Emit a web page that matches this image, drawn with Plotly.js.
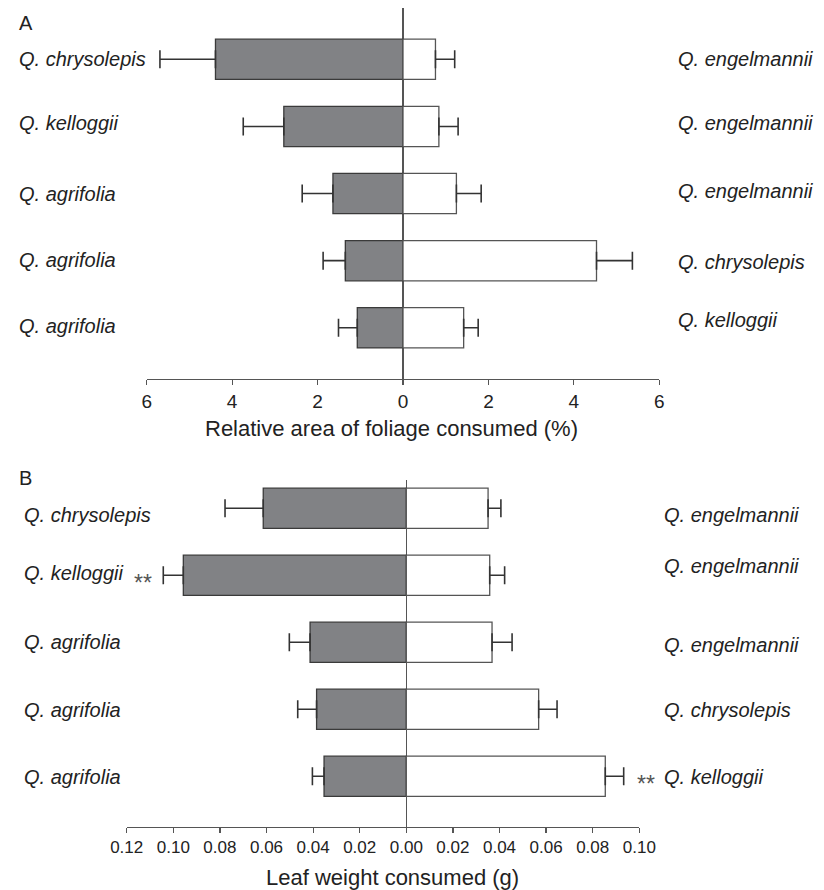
<!DOCTYPE html>
<html>
<head>
<meta charset="utf-8">
<script src="https://cdn.plot.ly/plotly-3.0.1.min.js"></script>
<style>html,body{margin:0;padding:0;background:#fff;}#chart{width:824px;height:890px;}</style>
</head>
<body>
<div id="chart"></div>
<script>
// ---- Data ----
const speciesLeft  = ['Q. chrysolepis', 'Q. kelloggii', 'Q. agrifolia', 'Q. agrifolia', 'Q. agrifolia'];
const speciesRight = ['Q. engelmannii', 'Q. engelmannii', 'Q. engelmannii', 'Q. chrysolepis', 'Q. kelloggii'];

// Panel A: relative area of foliage consumed (%)
const areaLeft      = [4.39, 2.79, 1.64, 1.35, 1.07];
const areaLeftErr   = [1.30, 0.95, 0.72, 0.52, 0.44];
const areaRight     = [0.76, 0.84, 1.25, 4.53, 1.42];
const areaRightErr  = [0.45, 0.45, 0.58, 0.84, 0.34];

// Panel B: leaf weight consumed (g)
const weightLeft     = [0.0614, 0.0957, 0.0413, 0.0385, 0.0353];
const weightLeftErr  = [0.0164, 0.0086, 0.0089, 0.0081, 0.0050];
const weightRight    = [0.0351, 0.0358, 0.0368, 0.0568, 0.0854];
const weightRightErr = [0.0055, 0.0064, 0.0086, 0.0079, 0.0079];
const sigLeftB  = ['', '**', '', '', ''];
const sigRightB = ['', '', '', '', '**'];

// Tick labels
const tickValsA = [-6, -4, -2, 0, 2, 4, 6];
const tickTextA = ['6', '4', '2', '0', '2', '4', '6'];
const tickValsB = [-0.12, -0.10, -0.08, -0.06, -0.04, -0.02, 0, 0.02, 0.04, 0.06, 0.08, 0.10];
const tickTextB = ['0.12', '0.10', '0.08', '0.06', '0.04', '0.02', '0.00', '0.02', '0.04', '0.06', '0.08', '0.10'];

const titleA = 'Relative area of foliage consumed (%)';
const titleB = 'Leaf weight consumed (g)';
const panelA = 'A', panelB = 'B';

// ---- Styling / layout helpers ----
const W = 824, H = 890;
const px = v => v / W;
const py = v => 1 - v / H;
const FONT = 'Liberation Sans, Arial, Helvetica, sans-serif';
const TXT = '#222';
const GRAY = '#818285';
const rows = speciesLeft.map((_, i) => i);
const zeros = rows.map(() => 0);

function barTrace(vals, errs, side, xa, ya) {
  const neg = side === 'left';
  return {
    type: 'bar', orientation: 'h',
    x: vals.map(v => neg ? -v : v), y: rows,
    xaxis: xa, yaxis: ya, width: 0.6,
    marker: { color: neg ? GRAY : '#ffffff', line: { color: neg ? '#3a3a3a' : '#555', width: 1.3 } },
    error_x: {
      type: 'data', symmetric: false,
      array: neg ? zeros : errs, arrayminus: neg ? errs : zeros,
      color: '#333', thickness: 1.6, width: 9
    },
    hoverinfo: 'skip'
  };
}

const data = [
  barTrace(areaLeft, areaLeftErr, 'left', 'x', 'y'),
  barTrace(areaRight, areaRightErr, 'right', 'x', 'y'),
  barTrace(weightLeft, weightLeftErr, 'left', 'x2', 'y2'),
  barTrace(weightRight, weightRightErr, 'right', 'x2', 'y2')
];

// small vertical nudges for the species labels (pixels, positive = up)
const nudgeA_L = [0, 3, 0, 1, 2];
const nudgeA_R = [0, 3, 3, -1, 8];
const nudgeB_L = [-7, 2, 0, -1, -1];
const nudgeB_R = [-7, 9, -3, -1, -1];

const ann = [];
function lab(text, x, yref, i, shift) {
  ann.push({ text: '<i>' + text + '</i>', xref: 'paper', x: x, xanchor: 'left',
             yref: yref, y: i, yanchor: 'middle', yshift: shift, showarrow: false,
             font: { family: FONT, size: 20, color: TXT } });
}
const starFont = { family: FONT, size: 23, color: '#555' };
rows.forEach(i => {
  lab(speciesLeft[i], px(17), 'y', i, nudgeA_L[i]);
  lab(speciesRight[i], px(676), 'y', i, nudgeA_R[i]);
  lab(speciesLeft[i], px(21.5), 'y2', i, nudgeB_L[i]);
  lab(speciesRight[i], px(662), 'y2', i, nudgeB_R[i]);
  if (sigLeftB[i]) ann.push({ text: sigLeftB[i], xref: 'x2', x: -(weightLeft[i] + weightLeftErr[i]),
      xshift: -20, xanchor: 'center', yref: 'y2', y: i, yanchor: 'middle', yshift: -8, showarrow: false,
      font: starFont });
  if (sigRightB[i]) ann.push({ text: sigRightB[i], xref: 'x2', x: weightRight[i] + weightRightErr[i],
      xshift: 22, xanchor: 'center', yref: 'y2', y: i, yanchor: 'middle', yshift: -8, showarrow: false,
      font: starFont });
});
ann.push({ text: panelA, xref: 'paper', yref: 'paper', x: px(17), y: py(23), xanchor: 'left', yanchor: 'middle',
           showarrow: false, font: { family: FONT, size: 20, color: TXT } });
ann.push({ text: panelB, xref: 'paper', yref: 'paper', x: px(17), y: py(478), xanchor: 'left', yanchor: 'middle',
           showarrow: false, font: { family: FONT, size: 20, color: TXT } });
ann.push({ text: titleA, xref: 'paper', yref: 'paper', x: px(391.5), y: py(428), xanchor: 'center', yanchor: 'middle',
           showarrow: false, font: { family: FONT, size: 22, color: TXT } });
ann.push({ text: titleB, xref: 'paper', yref: 'paper', x: px(392), y: py(877), xanchor: 'center', yanchor: 'middle',
           showarrow: false, font: { family: FONT, size: 22, color: TXT } });

const xCommon = {
  ticks: 'outside', ticklen: 5, tickwidth: 1.2, tickcolor: '#555',
  showline: true, linecolor: '#555', linewidth: 1.3,
  zeroline: true, zerolinecolor: '#555', zerolinewidth: 1.2,
  showgrid: false, fixedrange: true, tickmode: 'array'
};

const layout = {
  width: W, height: H,
  margin: { l: 0, r: 0, t: 0, b: 0 },
  paper_bgcolor: '#fff', plot_bgcolor: '#fff',
  showlegend: false, barmode: 'overlay', hovermode: false,
  font: { family: FONT, color: TXT },
  xaxis: Object.assign({}, xCommon, {
    domain: [px(146.7), px(659.3)], anchor: 'y', range: [-6, 6],
    tickvals: tickValsA, ticktext: tickTextA,
    tickfont: { family: FONT, size: 19, color: TXT }
  }),
  yaxis: { domain: [py(379), py(8.3)], range: [4.763, -0.76], visible: false, fixedrange: true },
  xaxis2: Object.assign({}, xCommon, {
    domain: [px(126.7), px(639.3)], anchor: 'y2', range: [-0.12, 0.10],
    tickvals: tickValsB, ticktext: tickTextB,
    tickfont: { family: FONT, size: 17, color: TXT }
  }),
  yaxis2: { domain: [py(826.7), py(480)], range: [4.752, -0.422], visible: false, fixedrange: true },
  annotations: ann
};

Plotly.newPlot('chart', data, layout, { displayModeBar: false, staticPlot: true });
</script>
</body>
</html>
